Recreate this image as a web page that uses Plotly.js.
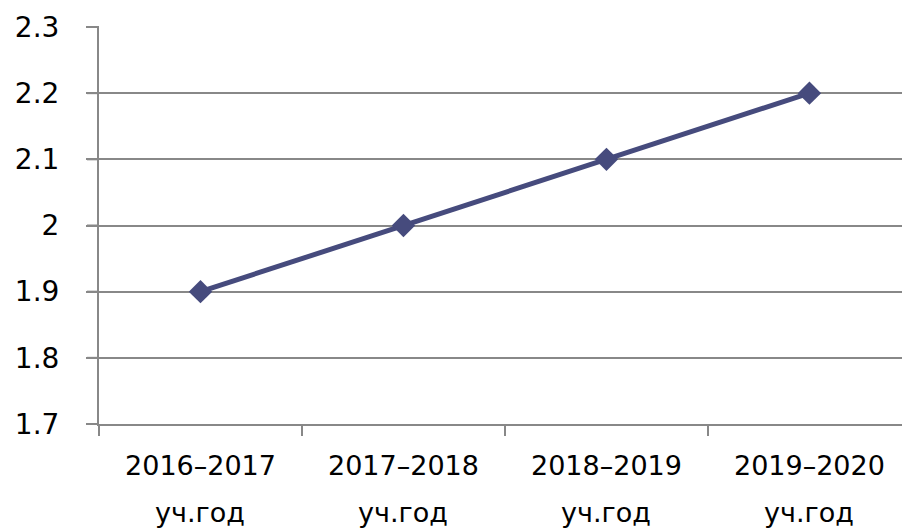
<!DOCTYPE html>
<html>
<head>
<meta charset="utf-8">
<script src="https://cdn.plot.ly/plotly-3.0.1.min.js"></script>
<style>html,body{margin:0;padding:0;overflow:hidden;background:#fff;}</style>
</head>
<body>
<div id="chart" style="width:902px;height:531px;"></div>
<script>
const years = ["2016–2017", "2017–2018", "2018–2019", "2019–2020"];
const yearSuffix = "уч.год";
const values = [1.9, 2.0, 2.1, 2.2];
const yTicks = [1.7, 1.8, 1.9, 2.0, 2.1, 2.2, 2.3];
const yTickText = ["1.7", "1.8", "1.9", "2", "2.1", "2.2", "2.3"];
const yMin = 1.7, yMax = 2.3;

const trace = {
  x: years,
  y: values,
  type: "scatter",
  mode: "lines+markers",
  line: {color: "#464b7d", width: 5},
  marker: {symbol: "diamond", size: 18, color: "#464b7d"},
  cliponaxis: false,
  hoverinfo: "skip"
};

const annotations = years.map(y => ({
  x: y, xref: "x", y: 0, yref: "paper",
  text: yearSuffix, showarrow: false,
  yanchor: "middle", xanchor: "center", yshift: -88,
  font: {family: "DejaVu Sans", size: 27, color: "#000"}
}));

const plotW = 902 - 99;
const tickShapes = yTicks.map(v => ({
  type: "line", xref: "paper", yref: "paper", layer: "above",
  x0: -12 / plotW, x1: 0,
  y0: (v - yMin) / (yMax - yMin), y1: (v - yMin) / (yMax - yMin),
  line: {color: "#888", width: 2}
}));

const layout = {
  width: 902, height: 531,
  margin: {l: 99, r: 0, t: 27, b: 107},
  paper_bgcolor: "#fff", plot_bgcolor: "#fff",
  showlegend: false,
  xaxis: {
    type: "category",
    categoryorder: "array", categoryarray: years,
    range: [-0.5, 3.456],
    tickson: "boundaries",
    ticks: "outside", ticklen: 10, tickwidth: 2, tickcolor: "#888",
    showgrid: false, zeroline: false,
    showline: true, linecolor: "#888", linewidth: 2,
    tickfont: {family: "DejaVu Sans", size: 27, color: "#000"},
    ticklabelstandoff: 17
  },
  yaxis: {
    range: [yMin, yMax],
    tickvals: yTicks, ticktext: yTickText,
    ticks: "outside", ticklen: 11, tickwidth: 2, tickcolor: "#888",
    showgrid: true, gridcolor: "#888", gridwidth: 2,
    zeroline: false,
    showline: true, linecolor: "#888", linewidth: 2,
    tickfont: {family: "DejaVu Sans", size: 28, color: "#000"},
    ticklabelstandoff: 21
  },
  shapes: tickShapes,
  annotations: annotations
};

Plotly.newPlot("chart", [trace], layout, {displayModeBar: false, staticPlot: true});
</script>
</body>
</html>
